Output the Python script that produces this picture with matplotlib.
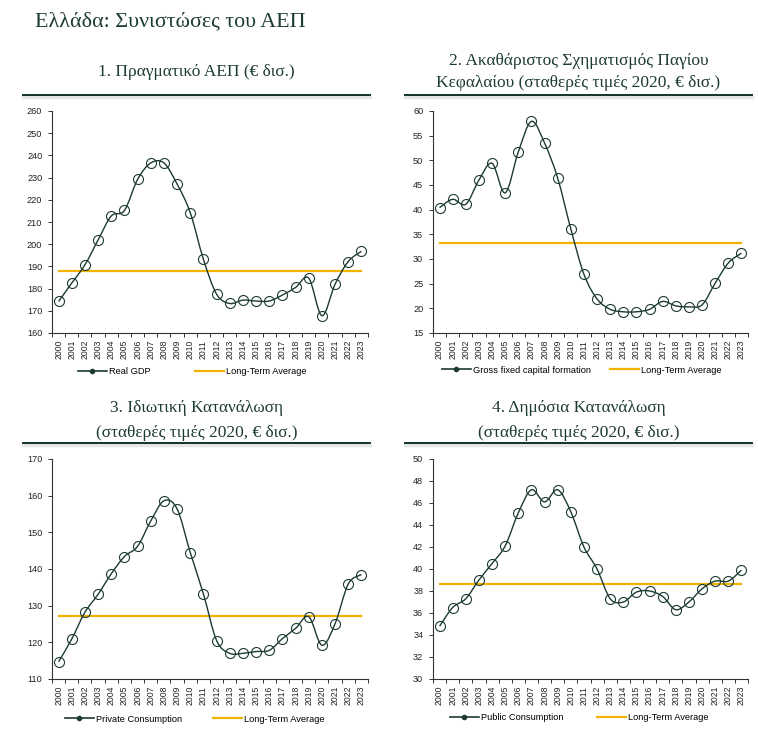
import matplotlib
matplotlib.use("Agg")
import matplotlib.pyplot as plt
from matplotlib.path import Path
from matplotlib.patches import PathPatch
from matplotlib.lines import Line2D
import numpy as np

years = [str(y) for y in range(2000, 2024)]

gdp = [174.2, 182.5, 190.7, 201.9, 212.7, 215.2, 229.2, 236.6, 236.6, 227.1, 214.2, 193.2,
       177.5, 173.3, 174.8, 174.4, 174.4, 177.1, 180.5, 184.7, 167.8, 182.0, 192.2, 196.8]
gdp_avg = 188.1

gfcf = [40.4, 42.1, 41.1, 46.0, 49.4, 43.4, 51.7, 57.9, 53.5, 46.4, 36.1, 26.9,
        21.9, 19.8, 19.3, 19.3, 19.8, 21.4, 20.5, 20.3, 20.7, 25.1, 29.2, 31.2]
gfcf_avg = 33.3

priv = [114.7, 120.9, 128.2, 133.1, 138.7, 143.4, 146.2, 153.1, 158.6, 156.4, 144.5, 133.2,
        120.5, 117.0, 117.0, 117.5, 117.8, 121.0, 123.8, 127.0, 119.2, 125.1, 135.9, 138.5]
priv_avg = 127.1

pub = [34.8, 36.5, 37.3, 39.0, 40.5, 42.1, 45.1, 47.2, 46.1, 47.2, 45.2, 42.0,
       40.0, 37.3, 37.0, 37.9, 38.0, 37.5, 36.3, 37.0, 38.2, 38.9, 38.9, 39.9]
pub_avg = 38.6

DARK = "#1b3a33"
GOLD = "#f2b400"
TITLE = "#1d3b35"
SERIF = "Liberation Serif"
SANS = "Liberation Sans"

W, H = 758, 741


def fx(px):
    return px / W


def fy(py):
    return 1 - py / H


def smooth_path(x, y, t=1 / 6):
    # bezier through the points (excel style smoothing)
    x = np.asarray(x, float)
    y = np.asarray(y, float)
    n = len(x)
    verts = [(x[0], y[0])]
    codes = [Path.MOVETO]
    for i in range(n - 1):
        i0 = max(i - 1, 0)
        i3 = min(i + 2, n - 1)
        c1 = (x[i] + (x[i + 1] - x[i0]) * t, y[i] + (y[i + 1] - y[i0]) * t)
        c2 = (x[i + 1] - (x[i3] - x[i]) * t, y[i + 1] - (y[i3] - y[i]) * t)
        verts += [c1, c2, (x[i + 1], y[i + 1])]
        codes += [Path.CURVE4] * 3
    return Path(verts, codes)


fig = plt.figure(figsize=(W / 100, H / 100), dpi=100)

fig.text(fx(35), fy(22), "Ελλάδα: Συνιστώσες του ΑΕΠ", family=SERIF, fontsize=15.8,
         color=TITLE, ha="left", va="center")

panels = [
    dict(rect=(52, 111, 368, 333), vals=gdp, avg=gdp_avg, yl=(160, 260), step=10,
         label="Real GDP", leg=(78, 195, 372),
         title=["1. Πραγματικό ΑΕΠ (€ δισ.)"], ty=[72], ul=(23, 370, 95)),
    dict(rect=(433, 111, 748, 333), vals=gfcf, avg=gfcf_avg, yl=(15, 60), step=5,
         label="Gross fixed capital formation", leg=(442, 610, 370),
         title=["2. Ακαθάριστος Σχηματισμός Παγίου", "Κεφαλαίου (σταθερές τιμές 2020, € δισ.)"],
         ty=[61, 83], ul=(405, 752, 95)),
    dict(rect=(52, 459, 368, 679), vals=priv, avg=priv_avg, yl=(110, 170), step=10,
         label="Private Consumption", leg=(65, 213, 719),
         title=["3. Ιδιωτική Κατανάλωση", "(σταθερές τιμές 2020, € δισ.)"],
         ty=[408, 433], ul=(23, 370, 443)),
    dict(rect=(433, 459, 748, 679), vals=pub, avg=pub_avg, yl=(30, 50), step=2,
         label="Public Consumption", leg=(450, 597, 718),
         title=["4. Δημόσια Κατανάλωση", "(σταθερές τιμές 2020, € δισ.)"],
         ty=[408, 433], ul=(405, 752, 443)),
]

for p in panels:
    l, t, r, b = p["rect"]
    ax = fig.add_axes([fx(l), fy(b), fx(r) - fx(l), fy(t) - fy(b)])
    xs = np.arange(len(years))

    ax.plot(xs, [p["avg"]] * len(years), color=GOLD, lw=1.6, zorder=2)
    ax.add_patch(PathPatch(smooth_path(xs, p["vals"]), fill=False, ec=DARK, lw=1.0, zorder=3))
    ax.plot(xs, p["vals"], ls="none", marker="o", ms=7.2, mfc="none", mec=DARK, mew=0.8, zorder=4)

    ax.set_xlim(-0.5, len(years) - 0.5)
    ax.set_ylim(*p["yl"])
    ax.set_xticks(np.arange(-0.5, len(years)))
    ax.set_xticklabels([])
    ax.set_xticks(xs, minor=True)
    ax.set_xticklabels(years, minor=True, rotation=90, family=SANS, fontsize=6.2, color="#222222")
    ax.tick_params(axis="x", which="major", length=3, width=0.7, direction="out", color="#333333")
    ax.tick_params(axis="x", which="minor", length=0, pad=5)
    ax.set_yticks(np.arange(p["yl"][0], p["yl"][1] + 0.01, p["step"]))
    ax.tick_params(axis="y", length=3, width=0.7, color="#333333", pad=4, labelsize=6.6,
                   labelcolor="#222222")
    for lab in ax.get_yticklabels():
        lab.set_family(SANS)
    for s in ["top", "right"]:
        ax.spines[s].set_visible(False)
    for s in ["left", "bottom"]:
        ax.spines[s].set_color("#333333")
        ax.spines[s].set_linewidth(0.8)

    # two legends, each entry placed where the reference has it
    x_a, x_b, y_l = p["leg"]
    kw = dict(frameon=False, loc="center left", handlelength=3.1, handletextpad=0.2,
              borderpad=0, borderaxespad=0, prop={"family": SANS, "size": 6.7},
              bbox_transform=fig.transFigure)
    h1 = Line2D([], [], color=DARK, lw=1.2, marker="o", ms=3, mfc=DARK, mec=DARK)
    h2 = Line2D([], [], color=GOLD, lw=1.6)
    lg1 = ax.legend([h1], [p["label"]], bbox_to_anchor=(fx(x_a), fy(y_l)), **kw)
    ax.add_artist(lg1)
    ax.legend([h2], ["Long-Term Average"], bbox_to_anchor=(fx(x_b), fy(y_l)), **kw)

    for line, yy in zip(p["title"], p["ty"]):
        fig.text(fx((p["ul"][0] + p["ul"][1]) / 2), fy(yy), line, family=SERIF, fontsize=12.5,
                 color=TITLE, ha="center", va="center")
    x0, x1, yu = p["ul"]
    fig.add_artist(Line2D([fx(x0), fx(x1)], [fy(yu + 2), fy(yu + 2)], color="#e6e6e6", lw=2.5))
    fig.add_artist(Line2D([fx(x0), fx(x1)], [fy(yu), fy(yu)], color="#0f332c", lw=1.4))

fig.savefig("out.png", dpi=100)
